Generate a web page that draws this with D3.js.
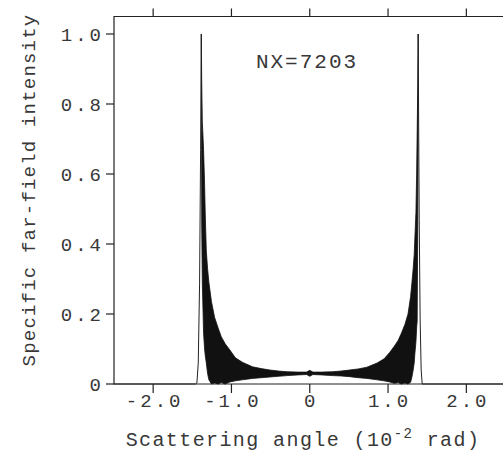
<!DOCTYPE html>
<html>
<head>
<meta charset="utf-8">
<script src="https://cdn.jsdelivr.net/npm/d3@7"></script>
<style>
  body { margin: 0; background: #fff; }
  svg text { font-family: "Liberation Mono", "DejaVu Sans Mono", monospace; fill: #383838; }
</style>
</head>
<body>
<div id="farField"></div>
<script>
// tick values / labels
const xTicks = [-2, -1, 0, 1, 2];
const xTickLabels = ["-2.0", "-1.0", "0", "1.0", "2.0"];
const yTicks = [0, 0.2, 0.4, 0.6, 0.8, 1.0];
const yTickLabels = ["0", "0.2", "0.4", "0.6", "0.8", "1.0"];

// oscillating band: angle, upper and lower envelope
const bandAngle = [-1.385, -1.380, -1.372, -1.356, -1.343, -1.334, -1.321, -1.305, -1.288, -1.255,
  -1.215, -1.17, -1.13, -1.08, -1.02, -0.95, -0.86, -0.73, -0.62, -0.51, -0.40, -0.29, -0.15, -0.04, 0,
  0.04, 0.15, 0.29, 0.40, 0.51, 0.62, 0.73, 0.86, 0.95, 1.02, 1.08, 1.13, 1.17, 1.215,
  1.255, 1.288, 1.305, 1.321, 1.334, 1.343, 1.356, 1.365, 1.372, 1.380, 1.385];
const bandUpper = [1.0, 0.87, 0.75, 0.67, 0.57, 0.48, 0.38, 0.33, 0.29, 0.235,
  0.19, 0.16, 0.135, 0.115, 0.097, 0.075, 0.062, 0.049, 0.044, 0.040, 0.037, 0.035, 0.034, 0.034, 0.039,
  0.034, 0.034, 0.035, 0.037, 0.040, 0.043, 0.048, 0.060, 0.072, 0.090, 0.108, 0.125, 0.145, 0.17,
  0.20, 0.25, 0.29, 0.33, 0.37, 0.42, 0.49, 0.60, 0.72, 0.86, 1.0];
const bandLower = [1.0, 0.46, 0.29, 0.145, 0.10, 0.08, 0.06, 0.03, 0.012, 0.0,
  0.003, 0.0, 0.004, 0.0, 0.006, 0.009, 0.012, 0.016, 0.018, 0.020, 0.022, 0.024, 0.026, 0.027, 0.022,
  0.027, 0.026, 0.024, 0.023, 0.021, 0.018, 0.016, 0.012, 0.009, 0.006, 0.002, 0.004, 0.0, 0.003,
  0.0, 0.005, 0.02, 0.04, 0.06, 0.088, 0.12, 0.16, 0.18, 0.47, 1.0];

// thin outer flanks of the two main peaks
const leftFlankAngle = [-2.5, -1.46, -1.441, -1.424, -1.407, -1.394, -1.385];
const leftFlankValue = [0, 0, 0.003, 0.06, 0.288, 0.669, 1.0];
const rightFlankAngle = [1.385, 1.392, 1.398, 1.41, 1.423, 1.436, 2.5];
const rightFlankValue = [1.0, 0.70, 0.469, 0.183, 0.04, 0, 0];

const w = 503, h = 460,
  margin = ({ top: 16.5, right: -2.5, bottom: 76, left: 114 });

const svg = d3.select("#farField")
  .append("svg")
  .attr("width", w)
  .attr("height", h)
  .attr("viewBox", [0, 0, w, h]);

let x = d3.scaleLinear()
  .domain([-2.5, 2.5])
  .range([margin.left, w - margin.right]);

let y = d3.scaleLinear()
  .domain([0, 1.05])
  .range([h - margin.bottom, margin.top]);

// frame
const frame = svg.append("g")
  .attr("fill", "none")
  .attr("stroke", "#222")
  .attr("stroke-width", 1.2);

frame.append("path")
  .attr("d", `M${x(2.5)},${y(1.05)}H${x(-2.5)}V${y(0)}H${x(2.5)}`);

// ticks (outward)
frame.selectAll(".xtb")
  .data(xTicks)
  .join("line")
  .attr("x1", d => x(d)).attr("x2", d => x(d))
  .attr("y1", y(0)).attr("y2", y(0) + 9);

frame.selectAll(".xtt")
  .data(xTicks)
  .join("line")
  .attr("x1", d => x(d)).attr("x2", d => x(d))
  .attr("y1", y(1.05)).attr("y2", y(1.05) - 8);

frame.selectAll(".ytl")
  .data(yTicks)
  .join("line")
  .attr("x1", x(-2.5)).attr("x2", x(-2.5) - 8)
  .attr("y1", d => y(d)).attr("y2", d => y(d));

// tick labels
svg.append("g")
  .selectAll("text")
  .data(xTicks)
  .join("text")
  .attr("x", (d, i) => x(d) + 1.5)
  .attr("y", y(0) + 23)
  .attr("text-anchor", "middle")
  .style("font-size", "19px")
  .style("letter-spacing", "3px")
  .text((d, i) => xTickLabels[i]);

svg.append("g")
  .selectAll("text")
  .data(yTicks)
  .join("text")
  .attr("x", 104)
  .attr("y", d => y(d) + 7)
  .attr("text-anchor", "end")
  .style("font-size", "19px")
  .style("letter-spacing", "3px")
  .text((d, i) => yTickLabels[i]);

// the curve
const band = d3.area()
  .x((d, i) => x(bandAngle[i]))
  .y0((d, i) => y(bandLower[i]))
  .y1((d, i) => y(bandUpper[i]))
  .curve(d3.curveLinear);

svg.append("path")
  .datum(bandAngle)
  .attr("d", band)
  .attr("fill", "#111")
  .attr("stroke", "#111")
  .attr("stroke-width", 0.8);

const flank = (xs, vs) => d3.line()
  .x((d, i) => x(xs[i]))
  .y((d, i) => y(vs[i]))(xs);

svg.append("path")
  .attr("d", flank(leftFlankAngle, leftFlankValue))
  .attr("fill", "none")
  .attr("stroke", "#222")
  .attr("stroke-width", 1);

svg.append("path")
  .attr("d", flank(rightFlankAngle, rightFlankValue))
  .attr("fill", "none")
  .attr("stroke", "#222")
  .attr("stroke-width", 1);

// annotation
svg.append("text")
  .attr("x", 307)
  .attr("y", 68)
  .attr("text-anchor", "middle")
  .style("font-size", "21px")
  .style("letter-spacing", "2px")
  .text("NX=7203");

// axis titles
const xTitle = svg.append("text")
  .attr("x", 303)
  .attr("y", 446)
  .attr("text-anchor", "middle")
  .style("font-size", "20px")
  .style("letter-spacing", "1.4px");
xTitle.append("tspan").text("Scattering angle (10");
xTitle.append("tspan").attr("dy", -8).style("font-size", "14px").text("-2");
xTitle.append("tspan").attr("dy", 8).text(" rad)");

svg.append("text")
  .attr("transform", "translate(35,190) rotate(-90)")
  .attr("text-anchor", "middle")
  .style("font-size", "19px")
  .style("letter-spacing", "1.2px")
  .text("Specific far-field intensity");
</script>
</body>
</html>
